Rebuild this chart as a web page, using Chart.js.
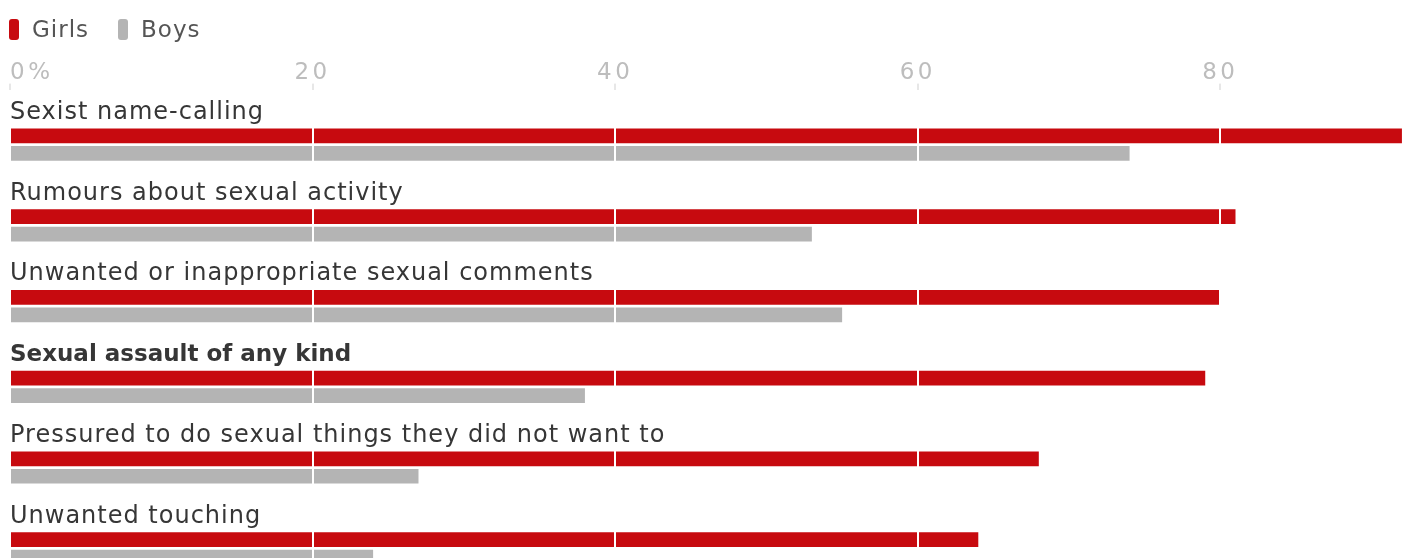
<!DOCTYPE html>
<html>
<head>
<meta charset="utf-8">
<script src="https://cdn.jsdelivr.net/npm/chart.js@4"></script>
<style>
  html, body { margin: 0; padding: 0; background: #fff; overflow: hidden; }
  #wrap { position: relative; width: 1411px; height: 558px; }
  #legend { position: absolute; left: 9px; top: 16px; display: flex; align-items: center;
            font-family: "DejaVu Sans", sans-serif; font-size: 23px; color: #555; letter-spacing: 1px; }
  #legend .item { display: flex; align-items: center; margin-right: 29px; }
  #legend .mark { width: 10px; height: 21px; border-radius: 3px; margin-right: 13px; }
</style>
</head>
<body>
<div id="wrap">
  <div id="legend"></div>
  <canvas id="myBarChart" width="1411" height="558"></canvas>
</div>
<script>
/* DADOS */
var categories = [
  'Sexist name-calling',
  'Rumours about sexual activity',
  'Unwanted or inappropriate sexual comments',
  'Sexual assault of any kind',
  'Pressured to do sexual things they did not want to',
  'Unwanted touching'
];
var girls = [92, 81, 80, 79, 68, 64];
var boys = [74, 53, 55, 38, 27, 24];
var tickValues = [0, 20, 40, 60, 80];
var boldCategory = 'Sexual assault of any kind';

var red = '#c70a0f';
var grey = '#b4b4b4';
var xMax = 92.6;

// legenda em HTML
var legendItems = [['Girls', red], ['Boys', grey]];
document.getElementById('legend').innerHTML = legendItems.map(function (it) {
  return '<div class="item"><span class="mark" style="background:' + it[1] + '"></span>' + it[0] + '</div>';
}).join('');

// espaçamento entre letras dos ticks no canvas
var spacingPlugin = {
  id: 'spacing',
  beforeLayout: function (chart) { chart.ctx.letterSpacing = '3.5px'; },
  beforeDraw: function (chart) { chart.ctx.letterSpacing = '3.5px'; }
};

// rótulos das categorias acima das barras (depois das linhas de grade)
var labelPlugin = {
  id: 'catLabels',
  afterDraw: function (chart) {
    var ctx = chart.ctx;
    var y = chart.scales.y;
    ctx.save();
    ctx.fillStyle = '#363636';
    ctx.textAlign = 'left';
    ctx.textBaseline = 'middle';
    categories.forEach(function (c, i) {
      if (c === boldCategory) {
        ctx.font = 'bold 23px "DejaVu Sans"';
        ctx.letterSpacing = '0px';
      } else {
        ctx.font = '24px "DejaVu Sans"';
        ctx.letterSpacing = '1px';
      }
      ctx.fillText(c, chart.chartArea.left, y.getPixelForValue(i) - 32);
    });
    ctx.restore();
  }
};

function toPoints(arr) {
  return arr.map(function (v, i) { return { x: v, y: i }; });
}

var ctxBar = document.getElementById('myBarChart').getContext('2d');

var dataBar = {
  datasets: [{
    label: 'Girls',
    data: toPoints(girls),
    backgroundColor: red,
    categoryPercentage: 0.432,
    barPercentage: 0.84
  }, {
    label: 'Boys',
    data: toPoints(boys),
    backgroundColor: grey,
    categoryPercentage: 0.432,
    barPercentage: 0.84
  }]
};

var optionsBar = {
  indexAxis: 'y',
  responsive: false,
  animation: false,
  layout: { padding: { left: 10, right: 0, top: 62, bottom: 0 } },
  plugins: { legend: { display: false }, tooltip: { enabled: false } },
  scales: {
    x: {
      type: 'linear',
      position: 'top',
      min: 0,
      max: xMax,
      z: 1,
      border: { display: false },
      afterBuildTicks: function (scale) {
        scale.ticks = tickValues.concat([xMax]).map(function (v) { return { value: v }; });
      },
      grid: {
        z: 1,
        lineWidth: 2,
        tickLength: 6,
        tickWidth: 1,
        color: function (c) { return (c.index === 0 || c.tick.value === xMax) ? 'rgba(0,0,0,0)' : '#fff'; },
        tickColor: function (c) { return c.tick.value === xMax ? 'rgba(0,0,0,0)' : '#cfcfcf'; }
      },
      ticks: {
        align: 'inner',
        padding: -3,
        color: '#bdbdbd',
        font: { family: 'DejaVu Sans', size: 23 },
        callback: function (v) { return v === 0 ? '0%' : (v === xMax ? '' : v); }
      }
    },
    y: {
      type: 'linear',
      reverse: true,
      display: false,
      offset: false,
      grid: { offset: false },
      bounds: 'data',
      min: -0.682,
      max: 5.12,
      afterBuildTicks: function (scale) {
        scale.ticks = categories.map(function (c, i) { return { value: i }; });
      }
    }
  }
};

var myBarChart = new Chart(ctxBar, {
  type: 'bar',
  data: dataBar,
  options: optionsBar,
  plugins: [spacingPlugin, labelPlugin]
});
</script>
</body>
</html>
